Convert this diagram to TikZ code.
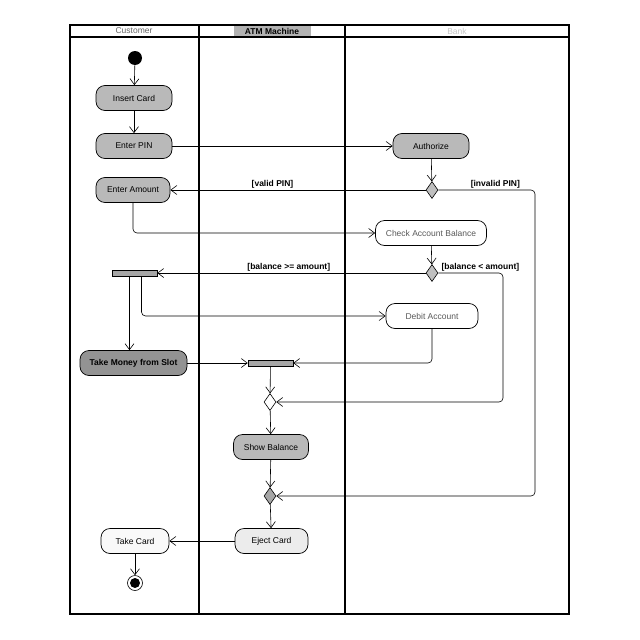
\documentclass[tikz,border=0pt]{standalone}
\usepackage{fontspec}
\setmainfont{Liberation Sans}
\usetikzlibrary{arrows.meta,shapes.geometric,calc}
\begin{document}
\begin{tikzpicture}[x=1pt,y=-1pt,
  every node/.style={font=\fontsize{8.5}{10}\selectfont},
  act/.style={draw, rounded corners=9pt, minimum height=25pt, inner sep=2pt, line width=0.7pt},
  diam/.style={draw, diamond, minimum width=12pt, minimum height=17pt, inner sep=0pt, line width=0.6pt},
  bar/.style={draw, rectangle, minimum width=45pt, minimum height=6pt, inner sep=0pt, fill=gray!70, line width=0.5pt},
  flow/.style={draw, line width=0.6pt, -{Straight Barb[length=6pt,width=9pt]}, rounded corners=4pt},
  lane/.style={line width=1.6pt},
  guard/.style={font=\fontsize{8.5}{9}\selectfont\bfseries, inner sep=1.5pt}
  ]
\useasboundingbox (0,0) rectangle (640,640);
\fill[white] (0,0) rectangle (640,640);
% swimlanes
\draw[lane] (70,25) rectangle (569,614);
\draw[lane] (70,37) -- (569,37);
\draw[lane] (199,25) -- (199,614);
\draw[lane] (345,25) -- (345,614);
\node[text=gray!80!black] (hcust) at (134,31) {Customer};
\node[fill=gray!60, minimum width=77pt, minimum height=10pt, inner sep=0pt, font=\fontsize{8.5}{10}\selectfont\bfseries] (hatm) at (272,31) {ATM Machine};
\node[fill=white, text=gray!45, inner sep=1pt, minimum width=30pt] (hbank) at (457,31) {Bank};
% nodes
\fill (135,58) circle (7);
\coordinate (init) at (135,58);
\node[act, fill=gray!55, minimum width=76pt] (ins) at (134,98) {Insert Card};
\node[act, fill=gray!55, minimum width=76pt] (pin) at (134,146) {Enter PIN};
\node[act, fill=gray!55, minimum width=76pt] (auth) at (431,146) {Authorize};
\node[diam, fill=gray!50] (d1) at (432,190) {};
\node[act, fill=gray!55, minimum width=74pt] (amt) at (133,190) {Enter Amount};
\node[act, fill=white, minimum width=111pt, text=gray!70!black] (cab) at (431,233) {Check Account Balance};
\node[diam, fill=gray!50] (d2) at (432,273) {};
\node[bar] (bar1) at (134.5,273) {};
\node[act, fill=white, minimum width=92pt, text=gray!70!black] (deb) at (432,316) {Debit Account};
\node[act, fill=gray!85, minimum width=107pt, font=\fontsize{8.5}{10}\selectfont\bfseries] (tm) at (133.5,363) {Take Money from Slot};
\node[bar] (bar2) at (270.5,363) {};
\node[diam, fill=white] (d3) at (270,402) {};
\node[act, fill=gray!55, minimum width=75pt] (sb) at (271,447) {Show Balance};
\node[diam, fill=gray!70] (d4) at (270,496) {};
\node[act, fill=gray!15, minimum width=73pt] (ej) at (271.5,541) {Eject Card};
\node[act, fill=gray!5, minimum width=68pt] (tc) at (135,541) {Take Card};
\node[circle, draw, fill=white, minimum size=15pt, inner sep=0pt, line width=0.6pt] (fin) at (135,583) {};
\fill (fin) circle (5);
% flows
\draw[flow] (init) -- (ins);
\draw[flow] (ins) -- (pin);
\draw[flow] (pin) -- (auth);
\draw[flow] (auth) -- (d1);
\draw[flow] (d1.west) -- node[guard, pos=0.6, above] {[valid PIN]} (amt.east);
\draw[flow] (d1.east) -- node[guard, pos=0.59, above] {[invalid PIN]} (535,190) |- (d4.east);
\draw[flow] (amt.south) |- (cab.west);
\draw[flow] (cab) -- (d2);
\draw[flow] (d2.west) -- node[guard, pos=0.51, above] {[balance >= amount]} (bar1.east);
\draw[flow] (d2.east) -- node[guard, pos=0.65, above] {[balance < amount]} (503,273) |- (d3.east);
\draw[flow] ([xshift=-5pt]bar1.south) -- ([xshift=-5pt]bar1.south |- tm.north);
\draw[flow] ([xshift=7pt]bar1.south) |- (deb.west);
\draw[flow] (tm.east) -- (bar2.west);
\draw[flow] (deb.south) |- (bar2.east);
\draw[flow] (bar2) -- (d3);
\draw[flow] (d3) -- (sb);
\draw[flow] (sb) -- (d4);
\draw[flow] (d4) -- (ej);
\draw[flow] (ej) -- (tc);
\draw[flow] (tc) -- (fin);
\end{tikzpicture}
\end{document}
